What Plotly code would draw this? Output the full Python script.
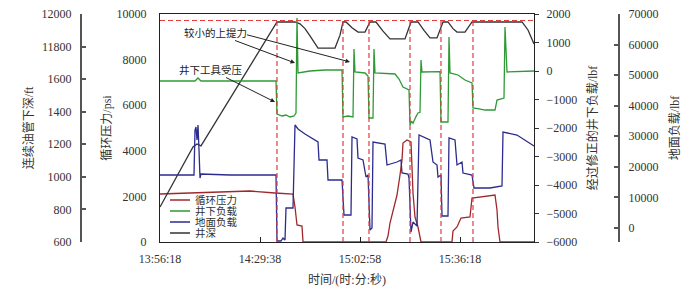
import plotly.graph_objects as go

# ---------------- data (x = elapsed seconds after 13:56:18) ----------------
x_tickvals = [0, 2000, 4000, 6000]
x_ticktext = ["13:56:18", "14:29:38", "15:02:58", "15:36:18"]
x_range = [0, 7480]

series_names = ["循环压力", "井下负载", "地面负载", "井深"]
series_colors = ["#a0282c", "#2f9a35", "#2b2c8c", "#333333"]

# 井深 (ft) on far-left axis
depth_t = [0, 660, 740, 820, 2340, 2700, 2800, 2900, 3000, 3100, 3160, 3500, 3600, 3660,
           3720, 3840, 3960, 4100, 4200, 4320, 4460, 4600, 4900, 5020, 5160, 5280, 5400,
           5540, 5660, 5760, 5860, 5940, 6100, 6240, 7240, 7360, 7480]
depth_ft = [815, 1183, 1202, 1190, 1951, 1951, 1940, 1910, 1865, 1815, 1791, 1791, 1870, 1951,
            1951, 1915, 1889, 1889, 1951, 1951, 1895, 1847, 1847, 1951, 1951, 1900, 1853,
            1853, 1951, 1951, 1910, 1889, 1889, 1951, 1951, 1902, 1816]
depth_max_line = 1960

# 井下负载 (lbf) on inner right axis
down_t = [0, 700, 760, 820, 2320, 2340, 2440, 2520, 2600, 2680, 2720, 2740, 2760, 3000,
          3300, 3640, 3660, 3760, 3860, 3880, 3900, 4100, 4160, 4180, 4260, 4280, 4300,
          4700, 4780, 4860, 4980, 5000, 5030, 5060, 5120, 5160, 5200, 5220, 5240, 5400,
          5600, 5620, 5760, 5780, 5800, 5960, 6100, 6240, 6260, 6380, 6500, 6700, 6740,
          6880, 6900, 6940, 7200, 7480]
down_lbf = [-351, -351, -246, -351, -351, -1509, -1579, -1544, -1614, -1579, -1474, 1860, -70, 0,
            35, 35, -1614, -1580, -1614, 772, -35, -70, -176, -1649, -1649, 772, -70,
            -105, -281, -561, -667, -1895, -1760, -1830, -1600, -1474, -1450, 386, -35, -35,
            -20, -1790, -1790, 1193, -70, -140, -316, -421, -1298, -1330, -1369, -1369, -1018,
            -948, 1544, -35, -10, 0]

# 地面负载 (lbf) on far-right axis
surf_t = [0, 680, 700, 720, 740, 760, 780, 800, 820, 1400, 2320, 2340, 2420, 2460, 2500,
          2520, 2660, 2700, 2760, 2900, 3160, 3180, 3340, 3360, 3640, 3680, 3820, 3840,
          3940, 3960, 4060, 4120, 4160, 4200, 4240, 4260, 4500, 4540, 4740, 4820, 4840,
          4960, 4980, 5020, 5060, 5140, 5180, 5400, 5460, 5540, 5560, 5620, 5640, 5760,
          5780, 5900, 5940, 6040, 6060, 6240, 6280, 6600, 6840, 6860, 7140, 7300, 7480]
surf_lbf = [17321, 17321, 32045, 33000, 28773, 33699, 25500, 16339, 17650, 17321, 17321, -4274,
            -4274, -3293, -3947, 6520, 6520, 33680, 32370, 30740, 28118, 22229, 22229, 15685,
            15685, 4233, 4233, 29755, 29100, 22885, 22229, 16667, 17321, -675, 0, 28118,
            27463, 20591, 21573, 22229, 17974, 17650, 16339, -1330, 1942, 614, 30409, 28773,
            21573, 20591, 16667, 17321, 3905, 3905, 29427, 28773, 20591, 21573, 17974, 17321,
            13067, 13067, 13721, 31391, 30409, 28773, 26809]

# 循环压力 (psi) on inner left axis
press_t = [0, 800, 1800, 2300, 2660, 2700, 2740, 2840, 2860, 4520, 4560, 4600, 4660, 4740,
           4800, 4840, 4860, 4940, 5020, 5060, 5100, 5160, 5220, 5840, 5860, 5940, 6020,
           6200, 6240, 6700, 6740, 6760, 6800, 7480]
press_psi = [2105, 2149, 2237, 2149, 2105, 1535, 746, 702, 0, 0, 263, 833, 1404, 2061,
             2939, 3597, 4342, 4474, 4386, 2149, 1096, 658, 0, 0, 482, 658, 1053,
             1096, 1930, 2061, 1404, 658, 0, 0]

# event markers (vertical dashed lines), elapsed seconds
event_t = [2340, 3660, 4180, 5000, 5620, 6260]

# ticks for the depth axis (as printed on the original)
depth_tickvals = [600, 800, 1000, 1200, 1400, 1600, 1800, 2000]
depth_ticktext = ["600", "800", "1000", "1200", "1400", "1600", "11800", "12000"]
surf_tickvals = [0, 10000, 20000, 30000, 40000, 50000, 60000, 70000]

# ---------------- figure ----------------
# the page places the figure with an 8px offset; work in reference pixel coords
OFF = 8
FW, FH = 699 - OFF, 295 - OFF


def px_x(X):
    return (X - OFF) / FW


def px_y(Y):
    return 1 - (Y - OFF) / FH


PL, PR, PT, PB = 160, 534, 14, 242
serif = "Liberation Serif, Noto Sans CJK SC"
txt = "#333333"

fig = go.Figure()
fig.add_trace(go.Scatter(x=depth_t, y=depth_ft, yaxis="y2", mode="lines",
                         line=dict(color=series_colors[3], width=1.3), name=series_names[3]))
fig.add_trace(go.Scatter(x=surf_t, y=surf_lbf, yaxis="y4", mode="lines",
                         line=dict(color=series_colors[2], width=1.3), name=series_names[2]))
fig.add_trace(go.Scatter(x=press_t, y=press_psi, yaxis="y", mode="lines",
                         line=dict(color=series_colors[0], width=1.3), name=series_names[0]))
fig.add_trace(go.Scatter(x=down_t, y=down_lbf, yaxis="y3", mode="lines",
                         line=dict(color=series_colors[1], width=1.3), name=series_names[1]))

shapes = []
dash_col = "#e23a3e"
shapes.append(dict(type="line", xref="x domain", yref="y2", x0=0, x1=1,
                   y0=depth_max_line, y1=depth_max_line,
                   line=dict(color=dash_col, width=1.2, dash="5px,3px")))
for t in event_t:
    shapes.append(dict(type="line", xref="x", yref="y2", x0=t, x1=t, y0=600, y1=depth_max_line,
                       line=dict(color=dash_col, width=1.2, dash="5px,3px")))

# manual compact legend
leg_x0, leg_x1, leg_tx = px_x(170), px_x(190), px_x(193)
leg_y = [200, 211, 222, 233]
annotations = []
for name, col, yy in zip(series_names, series_colors, leg_y):
    yp = px_y(yy)
    shapes.append(dict(type="line", xref="paper", yref="paper", x0=leg_x0, x1=leg_x1,
                       y0=yp, y1=yp, line=dict(color=col, width=1.5)))
    annotations.append(dict(xref="paper", yref="paper", x=leg_tx, y=yp, text=name,
                            showarrow=False, xanchor="left", yanchor="middle",
                            font=dict(size=10.5, color=txt, family=serif)))

arrow_style = dict(showarrow=True, arrowhead=2, arrowsize=0.9, arrowwidth=1,
                   arrowcolor="#222222", font=dict(size=10.5, color="#222222", family=serif))
annotations.append(dict(x=2700, y=281, xref="x", yref="y3", ax=-80, ay=-30,
                        text="较小的上提力", **arrow_style))
annotations.append(dict(x=3800, y=316, xref="x", yref="y3", ax=-106, ay=-28,
                        text=" ", **arrow_style))
annotations.append(dict(x=2300, y=-1088, xref="x", yref="y3", ax=-64, ay=-32,
                        text="井下工具受压", **arrow_style))

tick_font = dict(size=12, color=txt, family=serif)
title_font = dict(size=12, color=txt, family=serif)

fig.update_layout(
    width=FW, height=FH,
    margin=dict(l=0, r=0, t=0, b=0),
    paper_bgcolor="white", plot_bgcolor="white",
    showlegend=False,
    shapes=shapes,
    annotations=annotations,
    xaxis=dict(domain=[px_x(PL), px_x(PR)], range=x_range, tickvals=x_tickvals,
               ticktext=x_ticktext, ticklabeloverflow="allow",
               showline=True, mirror=True, linecolor="#222222", linewidth=1,
               ticks="inside", ticklen=5, tickcolor="#222222",
               showgrid=False, zeroline=False, tickfont=tick_font, ticklabelstandoff=6,
               title=dict(text="时间/(时:分:秒)", font=title_font, standoff=10), automargin=False),
    yaxis=dict(domain=[px_y(PB), px_y(PT)], range=[0, 10000], dtick=2000, tickformat="d",
               ticklabeloverflow="allow",
               showline=True, mirror=True, linecolor="#222222", linewidth=1,
               ticks="", showgrid=False, zeroline=False, tickfont=tick_font, ticklabelstandoff=10,
               title=dict(text="循环压力/psi", font=title_font, standoff=2), automargin=False),
    yaxis2=dict(overlaying="y", anchor="free", side="left", position=px_x(81),
                range=[600, 2000], tickvals=depth_tickvals, ticktext=depth_ticktext,
                ticklabeloverflow="allow",
                showline=True, linecolor="#555555", linewidth=2,
                ticks="inside", ticklen=4, tickwidth=1.5, tickcolor="#555555",
                showgrid=False, zeroline=False, tickfont=tick_font, ticklabelstandoff=6,
                title=dict(text="连续油管下深/ft", font=title_font, standoff=4), automargin=False),
    yaxis3=dict(overlaying="y", anchor="x", side="right", range=[-6000, 2000], dtick=1000,
                ticklabeloverflow="allow",
                showline=False, ticks="outside", ticklen=4, tickcolor="#333333",
                showgrid=False, zeroline=False, tickfont=tick_font, ticklabelstandoff=5,
                title=dict(text="经过修正的井下负载/lbf", font=title_font, standoff=12),
                automargin=False),
    yaxis4=dict(overlaying="y", anchor="free", side="right", position=px_x(619),
                range=[-4600, 70000], tickvals=surf_tickvals, tickformat="d",
                ticklabeloverflow="allow",
                showline=True, linecolor="#555555", linewidth=2,
                ticks="inside", ticklen=4, tickwidth=1.5, tickcolor="#555555",
                showgrid=False, zeroline=False, tickfont=tick_font, ticklabelstandoff=6,
                title=dict(text="地面负载/lbf", font=title_font, standoff=12), automargin=False),
)

fig.write_html("out.html")
